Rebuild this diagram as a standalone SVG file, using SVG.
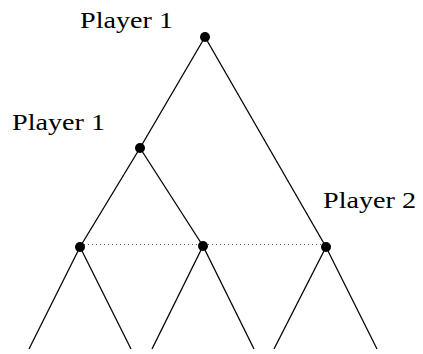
<svg xmlns="http://www.w3.org/2000/svg" width="423" height="354" viewBox="0 0 423 354">
<style>
.e{stroke:#000;stroke-width:1.3;fill:none}
.d{stroke:#555;stroke-width:1;stroke-dasharray:1 3;fill:none}
.n{fill:#000}
.t{font-family:'Liberation Serif','Times New Roman','DejaVu Serif',serif;font-size:24px;fill:#000}
</style>
<rect width="423" height="354" fill="#fff"/>
<g id="connectors">
<line class="e" x1="205" y1="37" x2="140" y2="148"/>
<line class="e" x1="205" y1="37" x2="326" y2="247"/>
<line class="e" x1="140" y1="148" x2="80" y2="247"/>
<line class="e" x1="140" y1="148" x2="203" y2="246"/>
<line class="e" x1="80" y1="247" x2="29" y2="349"/>
<line class="e" x1="80" y1="247" x2="131" y2="349"/>
<line class="e" x1="203" y1="246" x2="152" y2="349"/>
<line class="e" x1="203" y1="246" x2="254" y2="349"/>
<line class="e" x1="326" y1="247" x2="274" y2="349"/>
<line class="e" x1="326" y1="247" x2="377" y2="349"/>
<line class="d" x1="80" y1="244.5" x2="326" y2="244.5"/>
</g>
<g id="n1"><circle class="n" cx="205" cy="37" r="5"/><text class="t" x="80" y="28" textLength="93" lengthAdjust="spacingAndGlyphs">Player 1</text></g>
<g id="n2"><circle class="n" cx="140" cy="148" r="5"/><text class="t" x="12" y="130" textLength="93" lengthAdjust="spacingAndGlyphs">Player 1</text></g>
<g id="n3"><circle class="n" cx="80" cy="247" r="5"/></g>
<g id="n4"><circle class="n" cx="203" cy="246" r="5"/></g>
<g id="n5"><circle class="n" cx="326" cy="247" r="5"/><text class="t" x="323" y="208" textLength="93" lengthAdjust="spacingAndGlyphs">Player 2</text></g>
</svg>
